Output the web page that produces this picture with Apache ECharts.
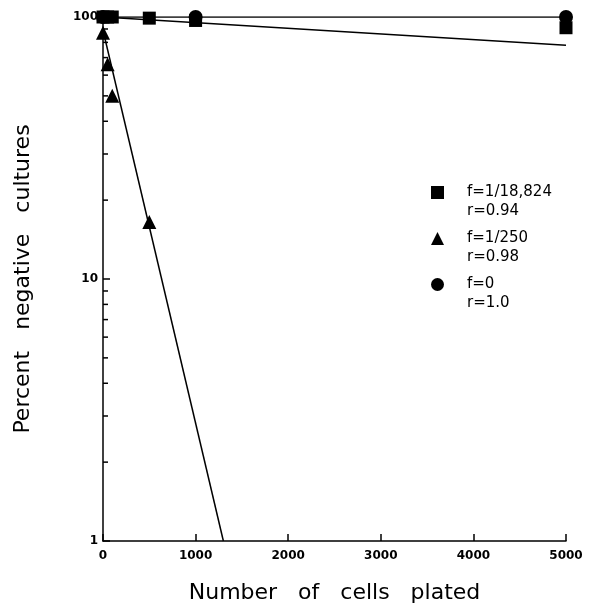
<!DOCTYPE html>
<html>
<head>
<meta charset="utf-8">
<script src="https://cdn.jsdelivr.net/npm/echarts@6/dist/echarts.min.js"></script>
<style>
  html, body { margin: 0; padding: 0; background: #fff; }
  #chart { width: 590px; height: 609px; }
</style>
</head>
<body>
<div id="chart"></div>
<script>
// measured points (percent negative cultures vs cells plated)
const squareX = [0, 50, 100, 500, 1000, 5000];
const squareY = [100, 100, 100, 99, 97, 91];
const triangleX = [0, 50, 100, 500];
const triangleY = [87, 66, 50, 16.5];
const circleX = [0, 1000, 5000];
const circleY = [100, 100, 100];

// fitted lines (end points)
const squareFit = [[0, 100], [5000, 78]];
const triangleFit = [[0, 89], [1300, 1]];
const circleFit = [[0, 100], [5000, 100]];

const seriesNames = ["f=1/18,824", "f=1/250", "f=0"];
const rValues = ["r=0.94", "r=0.98", "r=1.0"];
const legendIcons = ["rect", "triangle", "circle"];

const xTicks = [0, 1000, 2000, 3000, 4000, 5000];
const yMinorTicks = [2, 3, 4, 5, 6, 7, 8, 9, 20, 30, 40, 50, 60, 70, 80, 90];

const zip = (xs, ys) => xs.map((x, i) => [x, ys[i]]);

const chart = echarts.init(document.getElementById("chart"));

const font = "DejaVu Sans, Verdana, sans-serif";
const solid = { color: "#000", opacity: 1 };

// one legend per series; blank first line so the "f=" line sits level with the icon
const legends = seriesNames.map((name, i) => ({
  data: [{ name: name, icon: legendIcons[i] }],
  left: 431,
  top: 164 + i * 46,
  padding: 0,
  itemWidth: 13,
  itemHeight: 13,
  itemGap: 0,
  selectedMode: false,
  itemStyle: solid,
  formatter: (n) => " \n" + n + "\n" + rValues[i],
  textStyle: {
    fontFamily: font,
    fontSize: 15,
    lineHeight: 19,
    color: "#000",
    padding: [0, 0, 0, 18]
  }
}));

const options = {
  animation: false,
  backgroundColor: "#fff",
  legend: legends,
  grid: { left: 103, right: 24, top: 17, bottom: 68, outerBoundsMode: "none" },
  xAxis: {
    type: "value",
    min: 0,
    max: 5000,
    interval: 1000,
    name: "Number   of   cells   plated",
    nameLocation: "middle",
    nameGap: 41,
    nameTextStyle: { fontFamily: font, fontSize: 22, color: "#000" },
    axisLine: { lineStyle: { color: "#000", width: 1.5 } },
    axisTick: { inside: true, length: 7, lineStyle: { color: "#000", width: 1.5 } },
    axisLabel: {
      color: "#000",
      fontFamily: font,
      fontWeight: "bold",
      fontSize: 12,
      margin: 9,
      formatter: (v) => (xTicks.includes(v) ? String(v) : "")
    },
    splitLine: { show: false }
  },
  yAxis: {
    type: "log",
    logBase: 10,
    min: 1,
    max: 100,
    name: "Percent   negative   cultures",
    nameLocation: "middle",
    nameGap: 69,
    nameTextStyle: { fontFamily: font, fontSize: 22, color: "#000" },
    axisLine: { show: true, lineStyle: { color: "#000", width: 1.5 } },
    axisTick: { show: true, inside: true, length: 7, lineStyle: { color: "#000", width: 1.5 } },
    axisLabel: {
      color: "#000",
      fontFamily: font,
      fontWeight: "bold",
      fontSize: 12,
      margin: 5
    },
    splitLine: { show: false }
  },
  series: [
    {
      name: "fit-sq",
      type: "line",
      data: squareFit,
      symbol: "none",
      lineStyle: { color: "#000", width: 1.5 },
      z: 1
    },
    {
      name: "fit-tri",
      type: "line",
      data: triangleFit,
      symbol: "none",
      lineStyle: { color: "#000", width: 1.5 },
      z: 1
    },
    {
      name: "fit-circ",
      type: "line",
      data: circleFit,
      symbol: "none",
      lineStyle: { color: "#000", width: 1.5 },
      z: 1
    },
    {
      name: seriesNames[0],
      type: "scatter",
      symbol: "rect",
      symbolSize: 13,
      itemStyle: solid,
      data: zip(squareX, squareY),
      clip: false,
      z: 3
    },
    {
      name: seriesNames[1],
      type: "scatter",
      symbol: "triangle",
      symbolSize: 14,
      itemStyle: solid,
      data: zip(triangleX, triangleY),
      clip: false,
      z: 3
    },
    {
      name: seriesNames[2],
      type: "scatter",
      symbol: "circle",
      symbolSize: 14,
      itemStyle: solid,
      data: zip(circleX, circleY),
      clip: false,
      z: 3
    },
    {
      // minor ticks on log axis at 2..9 of each decade
      name: "minor",
      type: "custom",
      silent: true,
      clip: false,
      data: yMinorTicks.map((v) => [0, v]),
      renderItem: (params, api) => {
        const p = api.coord([0, api.value(1)]);
        return {
          type: "line",
          shape: { x1: p[0], y1: p[1], x2: p[0] + 5, y2: p[1] },
          style: { stroke: "#000", lineWidth: 1.5 }
        };
      },
      z: 2
    }
  ]
};

chart.setOption(options);
</script>
</body>
</html>
